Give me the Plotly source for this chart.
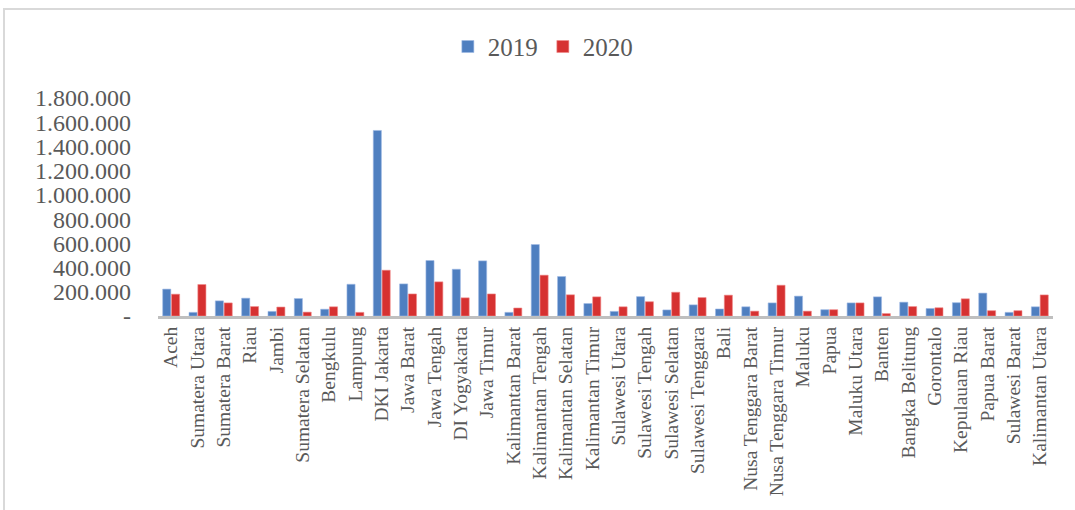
import plotly.graph_objects as go

provinces = ["Aceh", "Sumatera Utara", "Sumatera Barat", "Riau", "Jambi", "Sumatera Selatan",
             "Bengkulu", "Lampung", "DKI Jakarta", "Jawa Barat", "Jawa Tengah", "DI Yogyakarta",
             "Jawa Timur", "Kalimantan Barat", "Kalimantan Tengah", "Kalimantan Selatan",
             "Kalimantan Timur", "Sulawesi Utara", "Sulawesi Tengah", "Sulawesi Selatan",
             "Sulawesi Tenggara", "Bali", "Nusa Tenggara Barat", "Nusa Tenggara Timur", "Maluku",
             "Papua", "Maluku Utara", "Banten", "Bangka Belitung", "Gorontalo", "Kepulauan Riau",
             "Papua Barat", "Sulawesi Barat", "Kalimantan Utara"]

v2019 = [222000, 30000, 125000, 147000, 38000, 144000, 56000, 262000, 1532000, 265000,
         458000, 386000, 455000, 30000, 590000, 326000, 103000, 38000, 160000, 50000,
         92000, 58000, 76000, 108000, 164000, 52000, 108000, 158000, 114000, 62000,
         110000, 189000, 30000, 76000]
v2020 = [180000, 260000, 108000, 78000, 74000, 32000, 76000, 30000, 378000, 182000,
         282000, 150000, 182000, 66000, 337000, 175000, 158000, 76000, 118000, 196000,
         152000, 172000, 40000, 254000, 40000, 52000, 108000, 20000, 78000, 68000,
         142000, 44000, 44000, 174000]

ytick_vals = [0, 200000, 400000, 600000, 800000, 1000000, 1200000, 1400000, 1600000, 1800000]
ytick_text = ["-", "200.000", "400.000", "600.000", "800.000", "1.000.000", "1.200.000",
              "1.400.000", "1.600.000", "1.800.000"]

fig = go.Figure()
fig.add_trace(go.Bar(x=provinces, y=v2019, name="2019",
                     marker=dict(color="#4F7FC0", line=dict(color="#9DB8E4", width=0.6))))
fig.add_trace(go.Bar(x=provinces, y=v2020, name="2020",
                     marker=dict(color="#D63131", line=dict(color="#F08A8A", width=0.6))))

font_family = "Liberation Serif"

fig.update_layout(
    width=1075, height=510,
    margin=dict(l=158, r=22, t=98, b=194),
    paper_bgcolor="white", plot_bgcolor="white",
    barmode="group", bargap=0.33, bargroupgap=0.08,
    font=dict(family=font_family, color="#595959"),
    legend=dict(orientation="h", x=0.43, xanchor="center", y=1.235, yanchor="middle",
                font=dict(size=25, color="#595959", family=font_family),
                itemwidth=30, traceorder="normal"),
    xaxis=dict(showline=True, linecolor="#BFBFBF", linewidth=3, tickangle=-90,
               tickfont=dict(size=19.5, color="#595959", family=font_family),
               ticks="", showgrid=False, automargin=False),
    yaxis=dict(range=[0, 1800000], tickvals=ytick_vals, ticktext=ytick_text,
               tickfont=dict(size=24, color="#595959", family=font_family),
               ticklabelstandoff=26,
               showgrid=False, zeroline=False, showline=False, ticks="", automargin=False),
    shapes=[dict(type="rect", xref="paper", yref="paper",
                 x0=(4 - 158) / 895, x1=(1080 - 158) / 895,
                 y0=(316 - 520) / 218, y1=(316 - 9) / 218,
                 line=dict(color="#D9D9D9", width=2), fillcolor="rgba(0,0,0,0)",
                 layer="below")],
)

fig.write_html("out.html", config={"displayModeBar": False},
               post_script="document.body.style.margin='0';")
